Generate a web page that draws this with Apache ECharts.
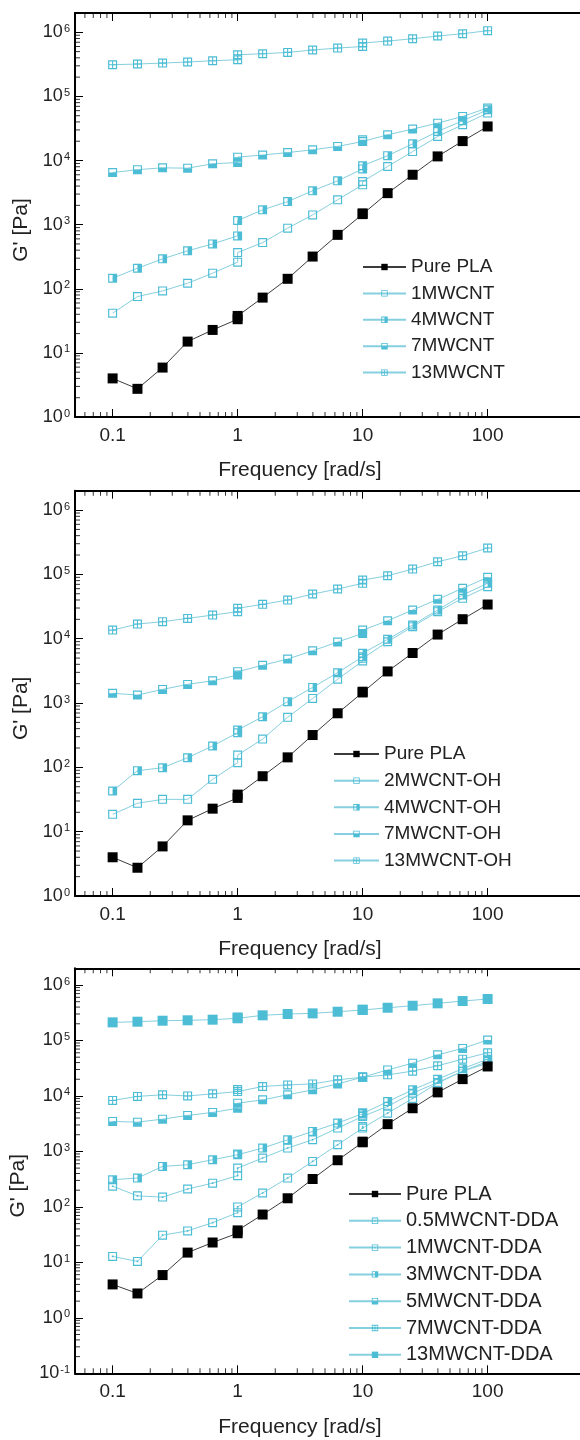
<!DOCTYPE html>
<html>
<head>
<meta charset="utf-8">
<script src="https://cdn.jsdelivr.net/npm/echarts@6/dist/echarts.min.js"></script>
<style>
html, body { margin: 0; padding: 0; background: #fff; overflow: hidden; }
#main { width: 580px; height: 1440px; }
</style>
</head>
<body>
<div id="main"></div>
<script>
// frequency sweep, done in three segments (1 and 10 rad/s measured twice)
var freq = [0.1, 0.158, 0.251, 0.398, 0.631, 1, 1, 1.585, 2.512, 3.981, 6.31, 10, 10, 15.85, 25.12, 39.81, 63.1, 100];

var purePLA = [4.0, 2.75, 5.9, 15, 22.8, 33.5, 37.7, 72.8, 143, 318, 693, 1460, 1500, 3100, 6000, 11600, 20100, 34000];

// panel 1
var mw1 = [41.6, 75.5, 92.6, 122, 175, 260, 367, 525, 881, 1420, 2440, 4180, 4710, 8070, 13800, 23700, 36100, 55000];
var mw4 = [146, 209, 293, 390, 501, 668, 1160, 1700, 2290, 3370, 4820, 7400, 8300, 11900, 18200, 28400, 41700, 62000];
var mw7 = [6500, 7200, 7700, 7600, 8900, 9300, 11300, 12200, 13300, 14700, 16600, 19800, 21000, 25200, 30900, 38300, 48700, 66000];
var mw13 = [312000, 320000, 331000, 344000, 360000, 373000, 447000, 463000, 486000, 529000, 568000, 600000, 680000, 730000, 794000, 875000, 950000, 1060000];

// panel 2
var oh2 = [18.6, 27.6, 31.8, 31.8, 65.2, 118, 155, 275, 600, 1180, 2340, 4500, 4950, 8970, 15400, 26300, 42400, 64300];
var oh4 = [42.9, 88.7, 98.7, 141, 215, 345, 380, 612, 1050, 1750, 2960, 5250, 5930, 9770, 16300, 27900, 47800, 72600];
var oh7 = [1420, 1330, 1630, 1950, 2220, 2720, 3070, 3860, 4830, 6500, 8880, 12100, 13600, 19000, 27900, 40900, 60700, 90000];
var oh13 = [13600, 16900, 18400, 20700, 23300, 26300, 29700, 34200, 39900, 49500, 59200, 72600, 81700, 95300, 121000, 157000, 195000, 257000];

// panel 3
var dda05 = [12.8, 10.4, 30.9, 36.9, 52, 78.6, 100, 178, 331, 660, 1320, 2630, 2800, 4900, 9000, 17000, 28000, 39000];
var dda1 = [236, 158, 150, 210, 268, 366, 500, 760, 1150, 1620, 2630, 4270, 4500, 6500, 11200, 17500, 28000, 42000];
var dda3 = [309, 331, 537, 575, 708, 870, 900, 1150, 1620, 2290, 3240, 4800, 5000, 7900, 12900, 20000, 31000, 46000];
var dda5 = [3470, 3370, 3820, 4450, 5040, 6000, 7400, 8500, 10500, 12900, 16500, 21800, 22000, 29500, 39000, 55000, 72000, 102000];
var dda7 = [8300, 9800, 10500, 10000, 10900, 12000, 13000, 14800, 15800, 16500, 19500, 21800, 22000, 24000, 28000, 35000, 46000, 60000];
var dda13 = [212000, 218000, 227000, 231000, 237000, 251000, 260000, 284000, 300000, 308000, 330000, 354000, 360000, 389000, 423000, 467000, 514000, 559000];

var names1 = ['Pure PLA', '1MWCNT', '4MWCNT', '7MWCNT', '13MWCNT'];
var names2 = ['Pure PLA', '2MWCNT-OH', '4MWCNT-OH', '7MWCNT-OH', '13MWCNT-OH'];
var names3 = ['Pure PLA', '0.5MWCNT-DDA', '1MWCNT-DDA', '3MWCNT-DDA', '5MWCNT-DDA', '7MWCNT-DDA', '13MWCNT-DDA'];

// x runs past the right edge of the page, so the frame stays open there
var xMin = 0.05, xMax = 1000, yMax = 2e6;
var FONT = 'Liberation Sans, Arial, sans-serif';
var CYAN = '#4dbdd5';
var CYAN_LINE = '#86cfde';

// marker shapes: square ring with different fillings
var RING = 'M0,0H10V10H0Z M1.3,1.3V8.7H8.7V1.3Z ';
var SYM_OPEN = 'path://' + RING;
var SYM_DOT = 'path://' + RING + 'M4.1,4.1H5.9V5.9H4.1Z';
var SYM_RIGHT = 'path://' + RING + 'M5,1.3H8.7V8.7H5Z';
var SYM_BOTTOM = 'path://' + RING + 'M1.3,5H8.7V8.7H1.3Z';
var SYM_CROSS = 'path://' + RING + 'M4.4,1.3H5.6V8.7H4.4Z M1.3,4.4H8.7V5.6H1.3Z';

var panels = [
	{ top: 13, height: 404, yMin: 1 },
	{ top: 490.7, height: 405.3, yMin: 1 },
	{ top: 968.3, height: 405, yMin: 0.1 }
];

function pairs(vals) {
	var out = [];
	for (var i = 0; i < freq.length; i++) {
		out.push([freq[i], vals[i]]);
	}
	return out;
}

function isDecade(v) {
	var e = Math.log10(v);
	return Math.abs(e - Math.round(e)) < 1e-6;
}

function lineSeries(name, vals, idx, symbol, size, black) {
	return {
		name : name,
		type : 'line',
		xAxisIndex : idx * 2,
		yAxisIndex : idx,
		data : pairs(vals),
		symbol : symbol,
		symbolSize : size,
		showAllSymbol : true,
		z : black ? 4 : 3,
		lineStyle : {
			color : black ? '#3c3c3c' : CYAN_LINE,
			width : 1
		},
		itemStyle : {
			color : black ? '#000' : CYAN,
			borderWidth : 0
		},
		emphasis : { disabled : true }
	};
}

// minor log ticks as tiny rect symbols placed on the axis lines
function tickSeries(idx, data, size, offset) {
	return {
		type : 'scatter',
		xAxisIndex : idx * 2,
		yAxisIndex : idx,
		data : data,
		symbol : 'rect',
		symbolSize : size,
		symbolOffset : offset,
		silent : true,
		clip : false,
		z : 6,
		itemStyle : { color : '#000' },
		emphasis : { disabled : true }
	};
}

function minorTicks(idx) {
	var p = panels[idx];
	var bottom = [], top = [], left = [];
	var k, d, v;
	for (d = 0.01; d < 100; d *= 10) {
		for (k = 2; k <= 9; k++) {
			v = +(k * d).toPrecision(3);
			if (v > xMin && v < 100) {
				bottom.push([v, p.yMin]);
				top.push([v, yMax]);
			}
		}
	}
	for (d = p.yMin; d < 1e6; d *= 10) {
		for (k = 2; k <= 9; k++) {
			left.push([xMin, +(k * d).toPrecision(3)]);
		}
	}
	return [
		tickSeries(idx, bottom, [1, 5], [0, -2.5]),
		tickSeries(idx, top, [1, 5], [0, 2.5]),
		tickSeries(idx, left, [5, 1], [2.5, 0])
	];
}

var grid = [], xAxis = [], yAxis = [], series = [];
for (var i = 0; i < panels.length; i++) {
	grid.push({
		show : false,
		left : 75,
		top : panels[i].top,
		width : 125 * Math.log10(xMax / xMin),
		height : panels[i].height,
		outerBoundsMode : 'none',
		containLabel : false
	});
	xAxis.push({
		type : 'log',
		gridIndex : i,
		min : xMin,
		max : xMax,
		position : 'bottom',
		name : 'Frequency [rad/s]',
		nameLocation : 'middle',
		nameGap : 43,
		nameTextStyle : {
			fontSize : 21,
			fontFamily : FONT,
			color : '#222',
			padding : [0, 2 * (75 + 125 * Math.log10(xMax / xMin) / 2 - 300), 0, 0]
		},
		axisLine : { lineStyle : { color : '#000', width : 2 } },
		axisTick : { inside : true, length : 8, lineStyle : { color : '#000', width : 1 } },
		axisLabel : {
			margin : 9,
			fontSize : 19,
			fontFamily : FONT,
			color : '#222',
			formatter : function(v) {
				return isDecade(v) && v <= 100 ? String(+v.toPrecision(3)) : '';
			}
		},
		splitLine : { show : false }
	});
	xAxis.push({
		type : 'log',
		gridIndex : i,
		min : xMin,
		max : xMax,
		position : 'top',
		axisLine : { lineStyle : { color : '#000', width : 2 } },
		axisTick : { inside : true, length : 8, lineStyle : { color : '#000', width : 1 } },
		axisLabel : { show : false },
		splitLine : { show : false }
	});
	yAxis.push({
		type : 'log',
		gridIndex : i,
		min : panels[i].yMin,
		max : yMax,
		name : "G' [Pa]",
		nameLocation : 'middle',
		nameGap : 40,
		nameTextStyle : {
			fontSize : 21,
			fontFamily : FONT,
			color : '#222',
			padding : [0, 30, 0, 0]
		},
		axisLine : { lineStyle : { color : '#000', width : 2 } },
		axisTick : { inside : true, length : 8, lineStyle : { color : '#000', width : 1 } },
		axisLabel : {
			margin : 5,
			color : '#222',
			formatter : function(v) {
				if (!isDecade(v)) {
					return '';
				}
				return '{b|10}{s|' + Math.round(Math.log10(v)) + '}';
			},
			rich : {
				b : { fontSize : 18, fontFamily : FONT, color : '#222' },
				s : { fontSize : 11, fontFamily : FONT, color : '#222', verticalAlign : 'top', padding : [0, 0, 0, 1] }
			}
		},
		splitLine : { show : false }
	});
	series = series.concat(minorTicks(i));
}

series.push(lineSeries('Pure PLA', purePLA, 0, 'rect', 10, true));
series.push(lineSeries('1MWCNT', mw1, 0, SYM_OPEN, 9));
series.push(lineSeries('4MWCNT', mw4, 0, SYM_RIGHT, 9));
series.push(lineSeries('7MWCNT', mw7, 0, SYM_BOTTOM, 9));
series.push(lineSeries('13MWCNT', mw13, 0, SYM_CROSS, 9));

series.push(lineSeries('Pure PLA', purePLA, 1, 'rect', 10, true));
series.push(lineSeries('2MWCNT-OH', oh2, 1, SYM_OPEN, 9));
series.push(lineSeries('4MWCNT-OH', oh4, 1, SYM_RIGHT, 9));
series.push(lineSeries('7MWCNT-OH', oh7, 1, SYM_BOTTOM, 9));
series.push(lineSeries('13MWCNT-OH', oh13, 1, SYM_CROSS, 9));

series.push(lineSeries('Pure PLA', purePLA, 2, 'rect', 10, true));
series.push(lineSeries('0.5MWCNT-DDA', dda05, 2, SYM_DOT, 9));
series.push(lineSeries('1MWCNT-DDA', dda1, 2, SYM_DOT, 9));
series.push(lineSeries('3MWCNT-DDA', dda3, 2, SYM_RIGHT, 9));
series.push(lineSeries('5MWCNT-DDA', dda5, 2, SYM_BOTTOM, 9));
series.push(lineSeries('7MWCNT-DDA', dda7, 2, SYM_CROSS, 9));
series.push(lineSeries('13MWCNT-DDA', dda13, 2, 'rect', 10));

function legendAt(left, top, width, gap, names, size) {
	return {
		orient : 'vertical',
		left : left,
		top : top,
		itemWidth : width,
		itemHeight : 8,
		itemGap : gap,
		data : names,
		selectedMode : false,
		textStyle : {
			fontSize : size,
			lineHeight : 20,
			fontFamily : FONT,
			color : '#222'
		}
	};
}

var chart = echarts.init(document.getElementById('main'));
var option = {
	animation : false,
	backgroundColor : '#fff',
	grid : grid,
	xAxis : xAxis,
	yAxis : yAxis,
	legend : [
		legendAt(357, 252, 43, 6.4, names1, 19),
		legendAt(328, 739, 45, 6.65, names2, 19),
		legendAt(343, 1179, 52, 6.8, names3, 20)
	],
	series : series
};
chart.setOption(option);
</script>
</body>
</html>
